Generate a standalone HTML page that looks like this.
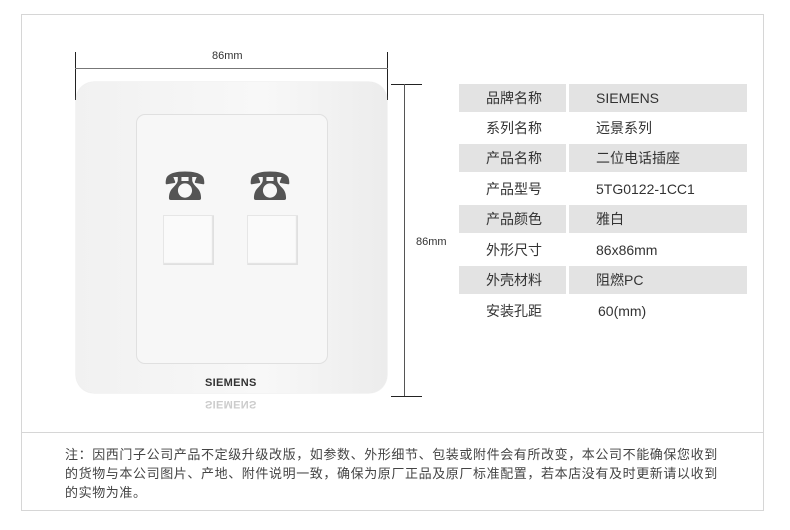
<!DOCTYPE html>
<html><head><meta charset="utf-8"><style>
body{margin:0;width:790px;height:530px;background:#fff;position:relative;overflow:hidden;font-family:"Liberation Sans","Noto Sans CJK SC",sans-serif;color:#333}
.a{position:absolute}
.row{position:absolute;left:459px;width:288px;height:28px;font-size:14px;line-height:28px}
.row .l{position:absolute;left:0;width:107px;height:28px;padding-left:27px;box-sizing:border-box}
.row .v{position:absolute;left:110px;width:178px;height:28px;padding-left:27px;box-sizing:border-box}
.g .l,.g .v{background:#e3e3e3}
.jack{position:absolute;width:50px;height:49px;border-top:1px solid #e6e6e6;border-left:1px solid #e6e6e6;background:#fafafa;box-shadow:inset -2px -2px 1px #e0e0e0}
</style></head><body>
<div class="a" style="left:21px;top:14px;width:741px;height:495px;border:1px solid #d6d6d6"></div>
<div class="a" style="left:21px;top:432px;width:742px;height:1px;background:#d6d6d6"></div>
<!-- dims -->
<div class="a" style="left:75px;top:52px;width:1px;height:48px;background:#222"></div>
<div class="a" style="left:387px;top:52px;width:1px;height:48px;background:#222"></div>
<div class="a" style="left:75px;top:68px;width:313px;height:1px;background:#777"></div>
<div class="a" style="left:212px;top:50px;font-size:11px">86mm</div>
<div class="a" style="left:391px;top:84px;width:31px;height:1px;background:#222"></div>
<div class="a" style="left:391px;top:396px;width:31px;height:1px;background:#222"></div>
<div class="a" style="left:404px;top:84px;width:1px;height:312px;background:#555"></div>
<div class="a" style="left:416px;top:236px;font-size:11px;background:#fff">86mm</div>
<!-- plate -->
<div class="a" style="left:76px;top:82px;width:311px;height:311px;border-radius:18px;background:linear-gradient(90deg,#f1f1f1,#f8f8f8 60%,#ececec);box-shadow:0 0 1px #bbb"></div>
<div class="a" style="left:136px;top:114px;width:190px;height:248px;border-radius:9px;background:#f7f7f7;border:1px solid #e0e0e0"></div>
<div class="a" style="left:164px;top:165px;font-size:42px;line-height:44px;color:#555">☎</div>
<div class="a" style="left:249px;top:165px;font-size:42px;line-height:44px;color:#555">☎</div>
<div class="jack" style="left:163px;top:215px"></div>
<div class="jack" style="left:247px;top:215px"></div>
<div class="a" style="left:205px;top:377px;font-size:11px;font-weight:bold;color:#333;letter-spacing:0.3px">SIEMENS</div>
<div class="a" style="left:205px;top:398px;font-size:11px;font-weight:bold;color:#ccc;transform:scaleY(-1);letter-spacing:0.3px">SIEMENS</div>
<!-- table -->
<div class="row g" style="top:84px"><div class="l">品牌名称</div><div class="v">SIEMENS</div></div>
<div class="row" style="top:114px"><div class="l">系列名称</div><div class="v">远景系列</div></div>
<div class="row g" style="top:144px"><div class="l">产品名称</div><div class="v">二位电话插座</div></div>
<div class="row" style="top:175px"><div class="l">产品型号</div><div class="v">5TG0122-1CC1</div></div>
<div class="row g" style="top:205px"><div class="l">产品颜色</div><div class="v">雅白</div></div>
<div class="row" style="top:236px"><div class="l">外形尺寸</div><div class="v">86x86mm</div></div>
<div class="row g" style="top:266px"><div class="l">外壳材料</div><div class="v">阻燃PC</div></div>
<div class="row" style="top:297px"><div class="l">安装孔距</div><div class="v" style="padding-left:29px">60(mm)</div></div>
<div class="a" style="left:65px;top:445px;width:720px;font-size:13px;line-height:19px;color:#444;white-space:nowrap;letter-spacing:0.6px">注：因西门子公司产品不定级升级改版，如参数、外形细节、包装或附件会有所改变，本公司不能确保您收到<br>的货物与本公司图片、产地、附件说明一致，确保为原厂正品及原厂标准配置，若本店没有及时更新请以收到<br>的实物为准。</div>
</body></html>
